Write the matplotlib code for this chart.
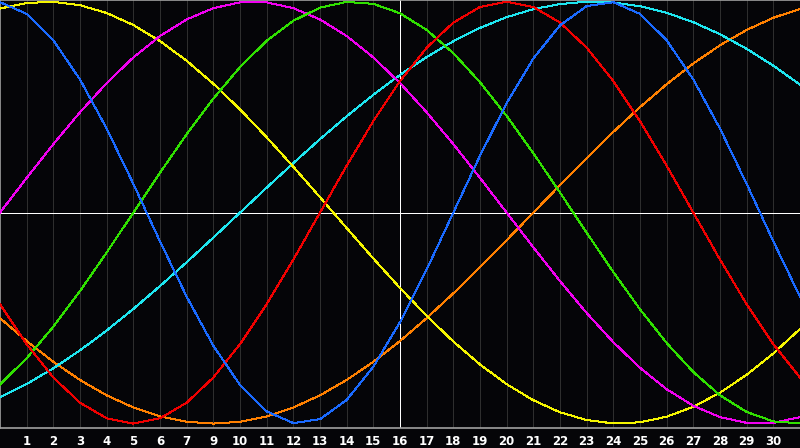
import matplotlib
matplotlib.use('Agg')
import matplotlib.pyplot as plt
import numpy as np

# day labels along the bottom (there is no "8" in the original)
tick_labels = ['1', '2', '3', '4', '5', '6', '7', '9', '10', '11', '12', '13', '14', '15',
               '16', '17', '18', '19', '20', '21', '22', '23', '24', '25', '26', '27',
               '28', '29', '30']

# one value per day, day 0 .. day 30
blue = [0.9977, 0.9423, 0.8170, 0.6311, 0.3984, 0.1362, -0.1362, -0.3984, -0.6311, -0.8170,
        -0.9423, -0.9977, -0.9791, -0.8879, -0.7308, -0.5196, -0.2698, 0.0, 0.2698, 0.5196,
        0.7308, 0.8879, 0.9791, 0.9977, 0.9423, 0.8170, 0.6311, 0.3984, 0.1362, -0.1362, -0.3984]
red = [-0.4339, -0.6235, -0.7818, -0.9010, -0.9749, -1.0, -0.9749, -0.9010, -0.7818, -0.6235,
       -0.4339, -0.2225, 0.0, 0.2225, 0.4339, 0.6235, 0.7818, 0.9010, 0.9749, 1.0,
       0.9749, 0.9010, 0.7818, 0.6235, 0.4339, 0.2225, 0.0, -0.2225, -0.4339, -0.6235, -0.7818]
green = [-0.8146, -0.6901, -0.5406, -0.3717, -0.1893, 0.0, 0.1893, 0.3717, 0.5406, 0.6901,
         0.8146, 0.9096, 0.9718, 0.9989, 0.9898, 0.9450, 0.8660, 0.7557, 0.6182, 0.4582,
         0.2817, 0.0951, -0.0951, -0.2817, -0.4582, -0.6182, -0.7557, -0.8660, -0.9450, -0.9898, -0.9989]
magenta = [0.0, 0.1646, 0.3247, 0.4759, 0.6142, 0.7357, 0.8372, 0.9158, 0.9694, 0.9966,
           0.9966, 0.9694, 0.9158, 0.8372, 0.7357, 0.6142, 0.4759, 0.3247, 0.1646, 0.0,
           -0.1646, -0.3247, -0.4759, -0.6142, -0.7357, -0.8372, -0.9158, -0.9694, -0.9966, -0.9966, -0.9694]
yellow = [0.9675, 0.9940, 0.9993, 0.9834, 0.9464, 0.8894, 0.8133, 0.7199, 0.6112, 0.4894,
          0.3572, 0.2174, 0.0730, -0.0730, -0.2174, -0.3572, -0.4894, -0.6112, -0.7199, -0.8133,
          -0.8894, -0.9464, -0.9834, -0.9993, -0.9940, -0.9675, -0.9203, -0.8536, -0.7686, -0.6673, -0.5517]
orange = [-0.5, -0.6088, -0.7071, -0.7934, -0.8660, -0.9239, -0.9659, -0.9914, -1.0, -0.9914,
          -0.9659, -0.9239, -0.8660, -0.7934, -0.7071, -0.6088, -0.5, -0.3827, -0.2588, -0.1305,
          0.0, 0.1305, 0.2588, 0.3827, 0.5, 0.6088, 0.7071, 0.7934, 0.8660, 0.9239, 0.9659]
cyan = [-0.8757, -0.8125, -0.7378, -0.6529, -0.5586, -0.4566, -0.3482, -0.2349, -0.1183, 0.0,
        0.1183, 0.2349, 0.3482, 0.4566, 0.5586, 0.6529, 0.7378, 0.8125, 0.8757, 0.9267,
        0.9646, 0.9890, 0.9996, 0.9961, 0.9786, 0.9473, 0.9028, 0.8456, 0.7765, 0.6966, 0.6068]

fig = plt.figure(figsize=(8, 4.48), dpi=100, facecolor='#050508')
ax = fig.add_axes([0, 20 / 448, 1, 428 / 448])
ax.set_facecolor('#050508')

# grid: dark lines every day, white cross in the middle
for i in range(1, 30):
    ax.axvline(i, color='#2e2e2e', lw=0.72, antialiased=False, zorder=1)
ax.axvline(15, color='white', lw=0.72, antialiased=False, zorder=2)
ax.axhline(0, color='white', lw=0.72, antialiased=False, zorder=2)

series = [(orange, '#ff8000'), (cyan, '#1ee6f0'), (yellow, '#f5f500'),
          (magenta, '#f000f0'), (green, '#30e000'), (red, '#f00000'),
          (blue, '#1a6aff')]
for vals, col in series:
    ax.plot(np.arange(len(vals)), vals, color=col, lw=0.72, antialiased=False, zorder=3)

ax.set_xlim(0, 30)
ax.set_ylim(-1.021, 1.008)
ax.set_yticks([])
ax.set_xticks(np.arange(1, 30), tick_labels)
ax.tick_params(axis='x', length=0, pad=5, labelsize=8.5, labelcolor='white')
for lab in ax.get_xticklabels():
    lab.set_fontweight('bold')

for side in ['left', 'top', 'bottom']:
    ax.spines[side].set_color('#a0a0a0')
    ax.spines[side].set_linewidth(1.2)
ax.spines['right'].set_visible(False)

fig.savefig('out.png', dpi=100, facecolor=fig.get_facecolor())
